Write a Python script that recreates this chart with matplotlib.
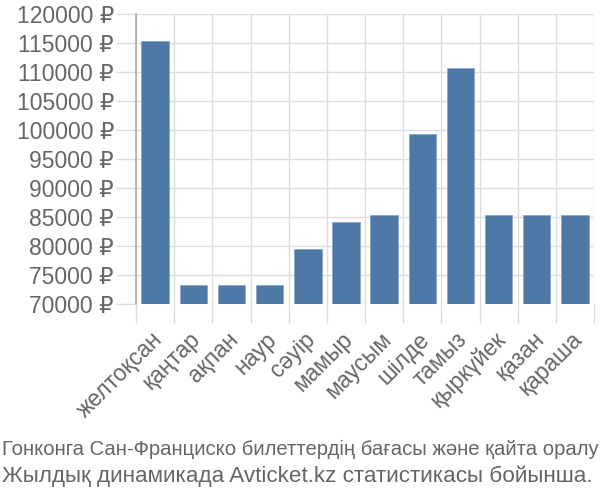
import matplotlib
matplotlib.use("Agg")
import matplotlib.pyplot as plt
import numpy as np

months = ["желтоқсан", "қаңтар", "ақпан", "наур", "сәуір", "мамыр",
          "маусым", "шілде", "тамыз", "қыркүйек", "қазан", "қараша"]
prices = [115300, 73200, 73200, 73200, 79500, 84200,
          85300, 99250, 110750, 85300, 85300, 85300]
yticks = list(range(70000, 120001, 5000))
caption = ["Гонконга Сан-Франциско билеттердің бағасы және қайта оралу",
           "Жылдық динамикада Avticket.kz статистикасы бойынша."]

fam = ["Liberation Sans", "DejaVu Sans"]
grey = "#666666"

fig = plt.figure(figsize=(6, 5), dpi=100)
ax = fig.add_axes([0.2267, 0.392, 0.7633, 0.58])

x = np.arange(len(months))
ax.bar(x, prices, width=0.72, color="#4e79a7", edgecolor="#8aa6c8",
       linewidth=0.6, zorder=3)

ax.set_ylim(70000, 120000)
ax.set_xlim(-0.5, len(months) - 0.5)
ax.set_yticks(yticks)
ax.set_yticklabels([f"{v} ₽" for v in yticks], family=fam,
                   fontsize=16.5, color=grey)

# grid lines sit between the bars
ax.set_xticks(np.append(x - 0.5, len(months) - 0.5))
ax.set_xticklabels([""] * (len(months) + 1))
ax.tick_params(axis="x", length=13.7, color="#dddddd", width=1)
ax.tick_params(axis="y", length=14.4, color="#dddddd", width=1, pad=1.5)
ax.grid(True, color="#dddddd", linewidth=1, zorder=0)

for xi, name in zip(x, months):
    ax.text(xi - 0.12, 65900, name, rotation=45, ha="right", va="top",
            rotation_mode="anchor", family=fam, fontsize=16.5, color=grey,
            clip_on=False)

for side in ["top", "right", "bottom"]:
    ax.spines[side].set_visible(False)
ax.spines["left"].set_color("#aaaaaa")
ax.spines["left"].set_linewidth(1.2)

fig.text(0.003, 1 - 455 / 500, caption[0], family=fam, fontsize=14.6,
         color=grey, va="baseline", ha="left")
fig.text(0.003, 1 - 482 / 500, caption[1], family=fam, fontsize=16.2,
         color=grey, va="baseline", ha="left")

fig.savefig("out.png", dpi=100)
